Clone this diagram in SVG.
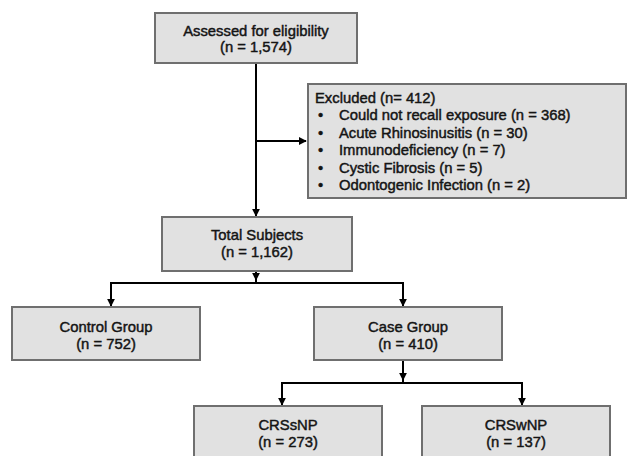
<svg xmlns="http://www.w3.org/2000/svg" width="629" height="456" viewBox="0 0 629 456">
<defs>
<style>
.box{fill:#e1e1e1;stroke:#6f6f6f;stroke-width:2}
.t{font-family:"Liberation Sans",Arial,sans-serif;font-size:14.8px;fill:#141414;stroke:#141414;stroke-width:0.45}
.c{text-anchor:middle}
.ln{fill:none;stroke:#000;stroke-width:2}
</style>
<marker id="ah" viewBox="0 0 10 10" refX="9" refY="5" markerWidth="4" markerHeight="4" orient="auto" markerUnits="strokeWidth">
<path d="M0,0 L10,5 L0,10 z" fill="#000"/>
</marker>
</defs>
<rect width="629" height="456" fill="#fff"/>
<g id="connectors">
<path class="ln" d="M256,63 V216" marker-end="url(#ah)"/>
<path class="ln" d="M256,141 H306" marker-end="url(#ah)"/>
<path class="ln" d="M256,271 V283"/>
<path class="ln" d="M256,271 V280" marker-end="url(#ah)"/>
<path class="ln" d="M111,306 V283 H403 V306"/>
<path class="ln" d="M111,283 V306" marker-end="url(#ah)"/>
<path class="ln" d="M403,283 V306" marker-end="url(#ah)"/>
<path class="ln" d="M403,361 V383"/>
<path class="ln" d="M403,361 V380" marker-end="url(#ah)"/>
<path class="ln" d="M282,405 V383 H522 V405"/>
<path class="ln" d="M282,383 V405" marker-end="url(#ah)"/>
<path class="ln" d="M522,383 V405" marker-end="url(#ah)"/>
</g>
<g id="assessed">
<rect class="box" x="155" y="13" width="202" height="50"/>
<text class="t c" x="256" y="36">Assessed for eligibility</text>
<text class="t c" x="256" y="52">(n = 1,574)</text>
</g>
<g id="excluded">
<rect class="box" x="308" y="84" width="318" height="114"/>
<text class="t" x="315" y="103">Excluded (n= 412)</text>
<g class="t">
<text x="318" y="120.4">•</text><text x="339" y="120.4">Could not recall exposure (n = 368)</text>
<text x="318" y="137.8">•</text><text x="339" y="137.8">Acute Rhinosinusitis (n = 30)</text>
<text x="318" y="155.2">•</text><text x="339" y="155.2">Immunodeficiency (n = 7)</text>
<text x="318" y="172.6">•</text><text x="339" y="172.6">Cystic Fibrosis (n = 5)</text>
<text x="318" y="190">•</text><text x="339" y="190">Odontogenic Infection (n = 2)</text>
</g>
</g>
<g id="total">
<rect class="box" x="162" y="217" width="190" height="54"/>
<text class="t c" x="257" y="240">Total Subjects</text>
<text class="t c" x="257" y="257">(n = 1,162)</text>
</g>
<g id="control">
<rect class="box" x="12" y="307" width="188" height="53"/>
<text class="t c" x="106" y="332">Control Group</text>
<text class="t c" x="106" y="349">(n = 752)</text>
</g>
<g id="case">
<rect class="box" x="314" y="307" width="188" height="53"/>
<text class="t c" x="408" y="332">Case Group</text>
<text class="t c" x="408" y="349">(n = 410)</text>
</g>
<g id="crssnp">
<rect class="box" x="194" y="406" width="188" height="56"/>
<text class="t c" x="288" y="430">CRSsNP</text>
<text class="t c" x="288" y="447">(n = 273)</text>
</g>
<g id="crswnp">
<rect class="box" x="422" y="406" width="188" height="56"/>
<text class="t c" x="516" y="430">CRSwNP</text>
<text class="t c" x="516" y="447">(n = 137)</text>
</g>
</svg>
